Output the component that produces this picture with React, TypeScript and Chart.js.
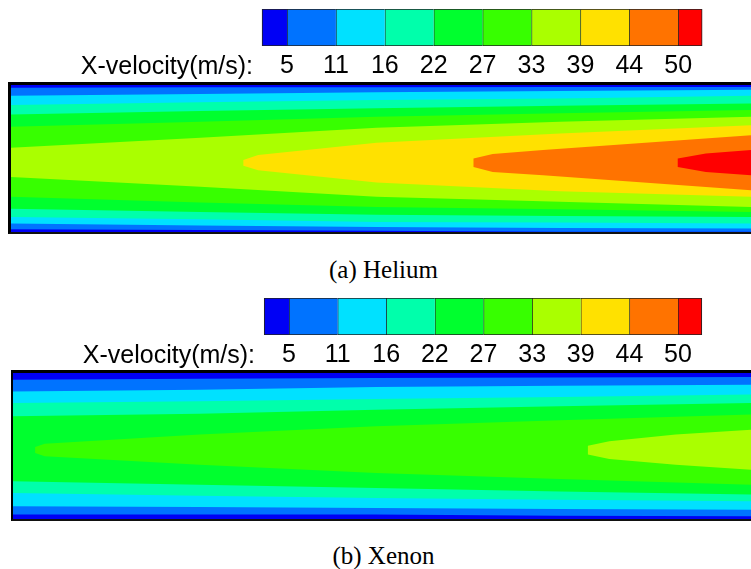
import React, { useEffect, useRef } from "react";
import { Chart, registerables } from "chart.js";

Chart.register(...registerables);

// ---------------- data ----------------
const LEVEL_LABELS = ["5", "11", "16", "22", "27", "33", "39", "44", "50"];
const BAND_COLORS = [
  "#0000f5", "#0073ff", "#00e1ff", "#00ffab", "#00ff2e",
  "#37ff00", "#aaff00", "#ffe100", "#ff7300", "#ff0000",
];
// colour-bar cells in label units (label k sits on edge k)
const CELL_EDGES = [0.49, 1, 2, 3, 4, 5, 6, 7, 8, 9, 9.49];

// channel walls (normalised: x = axial 0..1, y = transverse 0 bottom .. 1 top)
const WALL_X = [0, 1];
const WALL_TOP = [1, 1];
const WALL_BOT = [0, 0];

// (a) Helium – contour boundaries
const HE_X = [0, 0.256, 0.494, 0.742, 1.0];
const HE_5_TOP = [0.982, 0.984, 0.984, 0.986, 0.986];
const HE_5_BOT = [0.018, 0.014, 0.009, 0.002, 0.002];
const HE_11_TOP = [0.927, 0.939, 0.95, 0.959, 0.968];
const HE_11_BOT = [0.057, 0.045, 0.034, 0.027, 0.023];
const HE_16_TOP = [0.864, 0.882, 0.898, 0.909, 0.927];
const HE_16_BOT = [0.102, 0.086, 0.068, 0.064, 0.057];
const HE_22_TOP = [0.8, 0.823, 0.841, 0.859, 0.875];
const HE_22_BOT = [0.159, 0.136, 0.118, 0.109, 0.102];
const HE_27_TOP = [0.716, 0.75, 0.784, 0.807, 0.83];
const HE_27_BOT = [0.239, 0.2, 0.17, 0.155, 0.136];
const HE_33_TOP = [0.573, 0.641, 0.709, 0.75, 0.784];
const HE_33_BOT = [0.375, 0.307, 0.239, 0.205, 0.17];
const HE_39_X = [0.314, 0.334, 0.494, 0.742, 1.0];
const HE_39_TOP = [0.489, 0.523, 0.607, 0.67, 0.727];
const HE_39_BOT = [0.45, 0.42, 0.336, 0.277, 0.239];
const HE_44_X = [0.625, 0.651, 0.719, 1.0];
const HE_44_TOP = [0.5, 0.53, 0.557, 0.659];
const HE_44_BOT = [0.443, 0.409, 0.386, 0.284];
const HE_50_X = [0.901, 0.939, 1.0];
const HE_50_TOP = [0.5, 0.534, 0.557];
const HE_50_BOT = [0.443, 0.409, 0.386];

// (b) Xenon – contour boundaries
const XE_X = [0, 0.253, 0.492, 0.741, 1.0];
const XE_5_TOP = [0.954, 0.961, 0.966, 0.97, 0.973];
const XE_5_BOT = [0.03, 0.03, 0.03, 0.023, 0.018];
const XE_11_TOP = [0.874, 0.886, 0.904, 0.913, 0.92];
const XE_11_BOT = [0.087, 0.082, 0.075, 0.068, 0.064];
const XE_16_TOP = [0.795, 0.806, 0.822, 0.836, 0.852];
const XE_16_BOT = [0.178, 0.16, 0.144, 0.132, 0.121];
const XE_22_TOP = [0.703, 0.721, 0.749, 0.772, 0.795];
const XE_22_BOT = [0.258, 0.235, 0.212, 0.189, 0.167];
const XE_27_X = [0.03, 0.043, 0.253, 0.492, 0.741, 1.0];
const XE_27_TOP = [0.493, 0.516, 0.578, 0.635, 0.676, 0.715];
const XE_27_BOT = [0.452, 0.429, 0.372, 0.315, 0.274, 0.235];
const XE_33_X = [0.779, 0.808, 0.898, 1.0];
const XE_33_TOP = [0.502, 0.532, 0.578, 0.612];
const XE_33_BOT = [0.441, 0.411, 0.372, 0.338];

type Band = { xs: number[]; top: number[]; bot: number[] };

const HELIUM_BANDS: Band[] = [
  { xs: WALL_X, top: WALL_TOP, bot: WALL_BOT },
  { xs: HE_X, top: HE_5_TOP, bot: HE_5_BOT },
  { xs: HE_X, top: HE_11_TOP, bot: HE_11_BOT },
  { xs: HE_X, top: HE_16_TOP, bot: HE_16_BOT },
  { xs: HE_X, top: HE_22_TOP, bot: HE_22_BOT },
  { xs: HE_X, top: HE_27_TOP, bot: HE_27_BOT },
  { xs: HE_X, top: HE_33_TOP, bot: HE_33_BOT },
  { xs: HE_39_X, top: HE_39_TOP, bot: HE_39_BOT },
  { xs: HE_44_X, top: HE_44_TOP, bot: HE_44_BOT },
  { xs: HE_50_X, top: HE_50_TOP, bot: HE_50_BOT },
];

const XENON_BANDS: Band[] = [
  { xs: WALL_X, top: WALL_TOP, bot: WALL_BOT },
  { xs: XE_X, top: XE_5_TOP, bot: XE_5_BOT },
  { xs: XE_X, top: XE_11_TOP, bot: XE_11_BOT },
  { xs: XE_X, top: XE_16_TOP, bot: XE_16_BOT },
  { xs: XE_X, top: XE_22_TOP, bot: XE_22_BOT },
  { xs: XE_27_X, top: XE_27_TOP, bot: XE_27_BOT },
  { xs: XE_33_X, top: XE_33_TOP, bot: XE_33_BOT },
];

const SANS = "'Liberation Sans', Arial, sans-serif";
const SERIF = "'Liberation Serif', 'Times New Roman', serif";

function polygon(b: Band) {
  const pts = b.xs.map((x, i) => ({ x, y: b.top[i] }));
  for (let i = b.xs.length - 1; i >= 0; i--) pts.push({ x: b.xs[i], y: b.bot[i] });
  return pts;
}

// ---------------- components ----------------
function ColorBar({ top, min, max }: { top: number; min: number; max: number }) {
  const ref = useRef<HTMLCanvasElement>(null);
  useEffect(() => {
    const chart = new Chart(ref.current!, {
      type: "bar",
      data: {
        labels: [""],
        datasets: BAND_COLORS.map((c, k) => ({
          data: [[CELL_EDGES[k], CELL_EDGES[k + 1]]] as any,
          backgroundColor: c,
          borderColor: "#222",
          borderWidth: { top: 1, bottom: 1, left: 1, right: k === BAND_COLORS.length - 1 ? 1 : 0 },
          borderSkipped: false,
          grouped: false,
          barPercentage: 1,
          categoryPercentage: 1,
        })),
      },
      options: {
        indexAxis: "y",
        animation: false,
        responsive: false,
        events: [],
        layout: { padding: { top: 9, left: 0, right: 0, bottom: 0 } },
        plugins: { legend: { display: false }, tooltip: { enabled: false } },
        scales: {
          y: { display: false },
          x: {
            type: "linear",
            min,
            max,
            position: "bottom",
            grid: { display: false, drawTicks: false },
            border: { display: false },
            afterBuildTicks: (s: any) => {
              s.ticks = LEVEL_LABELS.map((_, i) => ({ value: i + 1 }));
            },
            afterFit: (s: any) => {
              s.height = 34;
            },
            ticks: {
              autoSkip: false,
              maxRotation: 0,
              padding: 5,
              color: "#000",
              font: { family: SANS, size: 25 },
              callback: (v: any) => LEVEL_LABELS[Math.round(Number(v)) - 1] ?? "",
            },
          },
        },
      } as any,
    });
    return () => chart.destroy();
  }, []);
  return (
    <canvas
      ref={ref}
      width={751}
      height={80}
      style={{ position: "absolute", left: 0, top, width: 751, height: 80 }}
    />
  );
}

function Field({ bands, width, height }: { bands: Band[]; width: number; height: number }) {
  const ref = useRef<HTMLCanvasElement>(null);
  useEffect(() => {
    const chart = new Chart(ref.current!, {
      type: "line",
      data: {
        datasets: bands.map((b, k) => ({
          data: polygon(b),
          backgroundColor: BAND_COLORS[k],
          borderColor: BAND_COLORS[k],
          borderWidth: 0,
          pointRadius: 0,
          tension: 0,
          fill: "shape",
          order: bands.length - k,
        })),
      },
      options: {
        animation: false,
        responsive: false,
        events: [],
        layout: { padding: 0 },
        plugins: { legend: { display: false }, tooltip: { enabled: false } },
        scales: {
          x: { type: "linear", min: 0, max: 1, display: false },
          y: { type: "linear", min: 0, max: 1, display: false },
        },
      } as any,
    });
    return () => chart.destroy();
  }, []);
  return <canvas ref={ref} width={width} height={height} style={{ display: "block", width, height }} />;
}

const labelStyle: React.CSSProperties = {
  position: "absolute",
  left: 0,
  textAlign: "right",
  font: `25px ${SANS}`,
  lineHeight: "25px",
  color: "#000",
  whiteSpace: "nowrap",
};

const captionStyle: React.CSSProperties = {
  position: "absolute",
  left: 0,
  width: 767,
  textAlign: "center",
  font: `25px ${SERIF}`,
  lineHeight: "25px",
  color: "#000",
  whiteSpace: "nowrap",
};

export default function App() {
  return (
    <div
      style={{
        position: "absolute",
        left: 0,
        top: 0,
        width: 751,
        height: 569,
        overflow: "hidden",
        background: "#fff",
      }}
    >
      {/* (a) Helium */}
      <ColorBar top={0} min={-4.869} max={10.489} />
      <div style={{ ...labelStyle, top: 53, width: 253 }}>X-velocity(m/s):</div>
      <div
        style={{
          position: "absolute",
          left: 8,
          top: 82,
          borderTop: "3px solid #000",
          borderLeft: "3px solid #000",
          borderBottom: "2px solid #111",
        }}
      >
        <Field bands={HELIUM_BANDS} width={740} height={147} />
      </div>
      <div style={{ ...captionStyle, top: 257 }}>(a) Helium</div>

      {/* (b) Xenon */}
      <ColorBar top={289} min={-4.943} max={10.501} />
      <div style={{ ...labelStyle, top: 342, width: 255 }}>X-velocity(m/s):</div>
      <div
        style={{
          position: "absolute",
          left: 11,
          top: 370,
          borderTop: "3px solid #000",
          borderLeft: "2px solid #000",
          borderBottom: "2px solid #111",
        }}
      >
        <Field bands={XENON_BANDS} width={738} height={146} />
      </div>
      <div style={{ ...captionStyle, top: 543 }}>(b) Xenon</div>
    </div>
  );
}
